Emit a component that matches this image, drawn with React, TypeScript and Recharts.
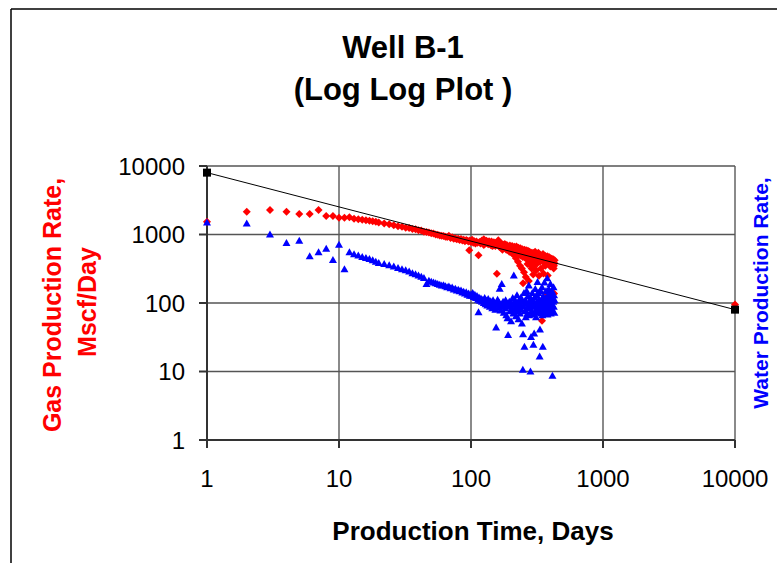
import React from "react";
import {
  ScatterChart,
  Scatter,
  XAxis,
  YAxis,
  CartesianGrid,
} from "recharts";

// production time (days) and gas rate (Mscf/day)
const gasDays = [
  1, 2, 3, 4, 5, 6, 7, 8, 9, 10, 11, 12, 13, 14, 15, 16, 17, 18, 19, 20,
  22, 24, 26, 28, 30, 32, 34, 36, 38, 40, 42, 44, 46, 48, 50, 52, 54, 56, 58, 60,
  62, 64, 66, 68, 70, 72, 74, 76, 78, 80, 82, 84, 86, 88, 90, 92, 94, 96, 97, 98,
  100, 102, 104, 106, 108, 110, 112, 114, 116, 118, 120,
  121, 123, 125, 127, 129, 131, 133, 135, 137, 139,
  141, 143, 145, 147, 149, 151, 153, 155, 157, 159,
  161, 163, 165, 167, 169, 171, 173, 175, 177, 179,
  181, 183, 185, 187, 189, 191, 193, 195, 197, 199,
  201, 203, 205, 207, 209, 211, 213, 215, 217, 219,
  221, 223, 225, 227, 229, 231, 233, 235, 237, 239,
  241, 243, 245, 247, 248, 250, 252, 254, 256, 258,
  260, 262, 264, 266, 268, 270, 272, 274, 276, 278,
  280, 282, 284, 286, 288, 290, 292, 294, 296, 298,
  300, 303, 306, 309, 312, 315, 318, 321, 324, 327,
  330, 333, 336, 339, 342, 345, 348, 351, 354, 357,
  360, 363, 366, 369, 372, 375, 378, 381, 384, 387,
  390, 393, 396, 399, 402, 405, 408, 411, 414, 417,
  420, 423, 426, 429,
  125, 135, 145, 155, 165, 175, 185, 195,
  205, 215, 225, 235, 245, 255, 265, 275, 285, 295,
  305, 315, 325, 335, 345, 355, 365, 375, 385, 395,
  405, 415, 425, 430,
  10000,
];
const gasRate = [
  1530, 2140, 2270, 2140, 2000, 2000, 2270, 1870, 1870, 1750, 1750, 1780, 1700, 1670, 1640, 1610, 1590, 1560, 1530, 1500,
  1450, 1410, 1370, 1320, 1300, 1250, 1240, 1200, 1190, 1150, 1140, 1100, 1090, 1070, 1040, 1030, 1000, 990, 970, 960,
  950, 930, 920, 960, 890, 910, 870, 880, 850, 870, 830, 860, 820, 840, 800, 830, 810, 790, 590, 820,
  780, 840, 760, 800, 740, 790, 760, 498, 780, 740, 800,
  820, 760, 850, 790, 740, 810, 770, 720, 800, 760,
  700, 790, 740, 690, 770, 730, 680, 760, 268, 710,
  825, 670, 740, 700, 640, 730, 600, 690, 650, 720,
  720, 680, 640, 700, 600, 660, 620, 560, 690, 610,
  650, 540, 680, 580, 630, 500, 660, 560, 610, 450,
  670, 540, 600, 400, 640, 520, 580, 350, 630, 490,
  560, 320, 610, 470, 195, 540, 280, 600, 460, 520,
  240, 590, 440, 500, 370, 580, 420, 210, 480, 560,
  360, 400, 460, 540, 320, 380, 520, 440, 260, 500,
  350, 480, 560, 420, 300, 520, 380, 460, 540, 250,
  440, 400, 500, 320, 460, 55, 420, 520, 270, 440,
  380, 490, 350, 450, 140, 410, 480, 253, 430, 370,
  470, 120, 420, 340, 450, 390, 130, 420, 360, 440,
  376, 320, 138, 380,
  700, 760, 680, 720, 660, 700, 600, 650,
  600, 640, 560, 600, 540, 580, 520, 560, 500, 540,
  480, 470, 450, 430, 470, 400, 420, 380, 400, 360,
  440, 400, 350, 420,
  95,
];

// production time (days) and water rate
const waterDays = [
  1, 2, 3, 4, 5, 6, 7, 8, 9, 10, 11, 12, 13, 14, 15, 16, 17, 18, 19, 20,
  22, 24, 26, 28, 30, 32, 34, 36, 38, 40, 42, 44, 46, 48, 50, 52, 54, 56, 58, 60,
  62, 64, 66, 68, 70, 72, 74, 76, 78, 80, 82, 84, 86, 88, 90, 92, 94, 96, 98, 100,
  101, 103, 105, 107, 109, 111, 113, 114, 115, 117,
  119, 121, 123, 125, 127, 129, 131, 133, 135, 137,
  139, 141, 143, 145, 147, 149, 151, 153, 155, 157,
  159, 161, 163, 165, 167, 169, 171, 173, 175, 177,
  179, 181, 183, 185, 187, 189, 191, 193, 195, 197,
  199, 201, 203, 205, 207, 209, 211, 213, 215, 217,
  219, 221, 223, 225, 227, 229, 231, 233, 235, 237,
  239, 241, 243, 245, 247, 248, 250, 252, 254, 256,
  258, 260, 262, 264, 266, 268, 270, 272, 274, 276,
  278, 280, 282, 284, 285, 287, 289, 291, 293, 295,
  297, 299, 301, 303, 305, 307, 309, 311, 313, 315,
  317, 319, 321, 323, 325, 327, 329, 331, 333, 335,
  337, 339, 341, 343, 345, 347, 349, 350, 352, 354,
  356, 358, 360, 362, 364, 366, 368, 370, 372, 374,
  376, 378, 380, 382, 384, 386, 388, 390, 392, 394,
  396, 398, 400, 402, 404, 406, 408, 410, 412, 414,
  416, 418, 420, 422, 424, 426, 428, 430,
];
const waterRate = [
  1500, 1450, 1000, 750, 810, 480, 550, 620, 425, 710, 310, 550, 515, 495, 470, 455, 440, 420, 400, 385,
  370, 355, 340, 325, 312, 300, 288, 272, 262, 252, 242, 232, 190, 212, 205, 200, 195, 190, 185, 180,
  182, 176, 170, 174, 164, 168, 158, 162, 152, 156, 148, 152, 142, 146, 138, 144, 132, 138, 128, 134,
  128, 140, 122, 132, 118, 126, 112, 73, 120, 108,
  116, 104, 112, 100, 118, 96, 108, 92, 114, 100,
  88, 106, 95, 84, 110, 90, 100, 80, 44, 95,
  112, 86, 102, 162, 78, 96, 190, 88, 104, 72,
  94, 84, 110, 66, 98, 60, 34, 88, 104, 76,
  92, 54, 100, 82, 118, 70, 253, 94, 80, 108,
  64, 90, 130, 76, 100, 58, 86, 112, 70, 96,
  120, 80, 50, 104, 10.6, 35, 90, 140, 23, 76,
  110, 62, 98, 150, 84, 70, 124, 92, 180, 66,
  104, 86, 10, 116, 32, 76, 96, 140, 68, 108,
  24.6, 88, 36, 120, 74, 160, 94, 62, 130, 84,
  106, 203, 72, 98, 140, 80, 112, 16.5, 41, 90,
  150, 70, 104, 86, 170, 66, 96, 23, 124, 78,
  108, 92, 200, 70, 118, 84, 100, 150, 76, 110,
  90, 230, 68, 128, 86, 104, 160, 74, 96, 140,
  80, 112, 190, 70, 100, 130, 84, 150, 94, 8.7,
  120, 76, 104, 170, 88, 130, 72, 110,
];

// straight-line decline on log-log axes
const declineDays = [1, 10000];
const declineRate = [8000, 80];

const decadeTicks = [1, 10, 100, 1000, 10000];

const gasData = gasDays.map((d, i) => ({ day: d, rate: gasRate[i] }));
const waterData = waterDays.map((d, i) => ({ day: d, rate: waterRate[i] }));
const declineData = declineDays.map((d, i) => ({ day: d, rate: declineRate[i] }));

const FONT = "'Liberation Sans', Arial, sans-serif";

const Diamond = (props: any) => {
  const { cx, cy } = props;
  const r = 4;
  return (
    <polygon
      points={`${cx},${cy - r} ${cx + r},${cy} ${cx},${cy + r} ${cx - r},${cy}`}
      fill="#ff0000"
    />
  );
};

const Triangle = (props: any) => {
  const { cx, cy } = props;
  return (
    <polygon
      points={`${cx},${cy - 4} ${cx + 4},${cy + 3} ${cx - 4},${cy + 3}`}
      fill="#0000ff"
    />
  );
};

const Square = (props: any) => {
  const { cx, cy } = props;
  return <rect x={cx - 4} y={cy - 4} width={8} height={8} fill="#000000" />;
};

export default function App() {
  return (
    <div style={{ position: "absolute", left: 0, top: 0, width: 777, height: 563, background: "#fff" }}>
      <ScatterChart
        width={777}
        height={563}
        margin={{ top: 166, right: 42, bottom: 0, left: 0 }}
      >
        <CartesianGrid horizontal={false} stroke="#8a8a8a" strokeWidth={2} />
        <CartesianGrid vertical={false} stroke="#555555" strokeWidth={1.5} />
        <XAxis
          dataKey="day"
          type="number"
          scale="log"
          domain={[1, 10000]}
          ticks={decadeTicks}
          height={123}
          tickSize={8}
          tickMargin={22}
          stroke="#333"
          strokeWidth={2}
          tick={{ fontSize: 24, fill: "#000", fontFamily: FONT }}
        />
        <YAxis
          dataKey="rate"
          type="number"
          scale="log"
          domain={[1, 10000]}
          ticks={decadeTicks}
          width={207}
          tickSize={8}
          tickMargin={14}
          stroke="#333"
          strokeWidth={2}
          tick={{ fontSize: 24, fill: "#000", fontFamily: FONT }}
        />
        <Scatter data={gasData} shape={Diamond} isAnimationActive={false} />
        <Scatter data={waterData} shape={Triangle} isAnimationActive={false} />
        <Scatter
          data={declineData}
          shape={Square}
          line={{ stroke: "#000", strokeWidth: 1 }}
          isAnimationActive={false}
        />
      </ScatterChart>
      <svg
        width={777}
        height={563}
        style={{ position: "absolute", left: 0, top: 0, pointerEvents: "none" }}
      >
        <line x1={11} y1={9} x2={777} y2={9} stroke="#000" strokeWidth={1.5} />
        <line x1={11} y1={9} x2={11} y2={563} stroke="#000" strokeWidth={1.5} />
        <g fontFamily={FONT} fontWeight="bold" textAnchor="middle">
          <text x={403} y={58} fontSize={31} fill="#000">Well B-1</text>
          <text x={403} y={100} fontSize={31} fill="#000">(Log Log Plot )</text>
          <text x={473} y={540} fontSize={26} fill="#000">Production Time, Days</text>
          <text transform="translate(61,305) rotate(-90)" fontSize={25} fill="#ff0000">
            Gas Production Rate,
          </text>
          <text transform="translate(96,302) rotate(-90)" fontSize={25} fill="#ff0000">
            Mscf/Day
          </text>
          <text transform="translate(768,293) rotate(-90)" fontSize={21} fill="#0000ff">
            Water Production Rate,
          </text>
        </g>
      </svg>
    </div>
  );
}
